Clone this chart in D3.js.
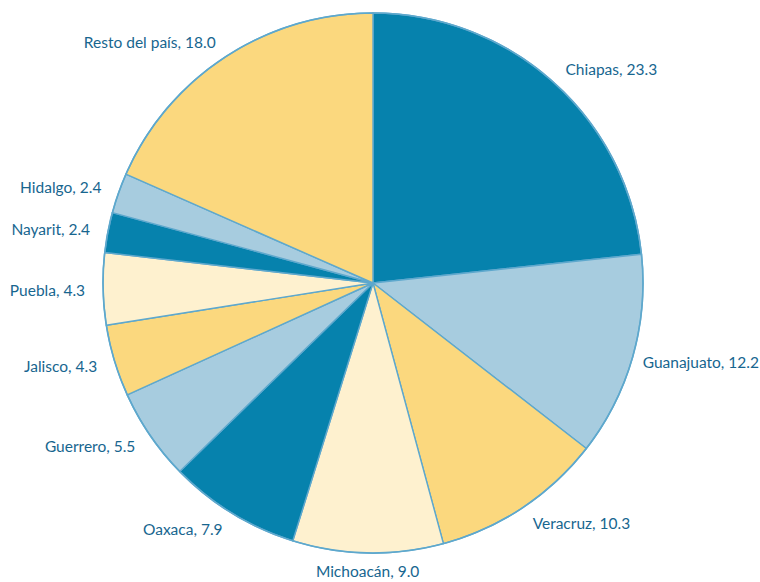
<!DOCTYPE html>
<html>
<head>
<meta charset="utf-8">
<script src="https://cdn.jsdelivr.net/npm/d3@7"></script>
<style>
  html, body { margin: 0; padding: 0; background: #fff; }
  svg { display: block; }
</style>
</head>
<body>
<div id="chart"></div>
<script>
// Data (percent), clockwise from 12 o'clock; "Resto del país" closes the circle
const states = ['Chiapas', 'Guanajuato', 'Veracruz', 'Michoacán', 'Oaxaca', 'Guerrero',
                'Jalisco', 'Puebla', 'Nayarit', 'Hidalgo', 'Resto del país'];
const shares = [23.3, 12.2, 10.3, 9.0, 7.9, 5.5, 4.3, 4.3, 2.4, 2.4, 18.0];
const palette = ['#0682ad', '#a7ccdf', '#fbd87e', '#fef1cf'];

const width = 760, height = 582;
const cx = 373, cy = 283, radius = 270;
const labelRadius = 288;

const svg = d3.select('#chart')
    .append('svg')
    .attr('width', width)
    .attr('height', height);

const g = svg.append('g')
    .attr('transform', `translate(${cx},${cy})`);

const data = states.map((name, i) => ({ name, value: shares[i], i }));
const total = d3.sum(shares);

// Angles are laid out on a 0-100 % scale; the last slice takes the remainder
const pie = d3.pie()
    .value(d => d.value)
    .sort(null)
    .endAngle(2 * Math.PI * total / 100);

const arcs = pie(data);
arcs[arcs.length - 1].endAngle = 2 * Math.PI;

const arc = d3.arc()
    .innerRadius(0)
    .outerRadius(radius);

// Slices
g.selectAll('path.slice')
    .data(arcs)
    .join('path')
    .attr('class', 'slice')
    .attr('d', arc)
    .attr('fill', d => palette[d.data.i % 4])
    .attr('stroke', '#5ea8cd')
    .attr('stroke-width', 1.4)
    .attr('stroke-linejoin', 'round');

// Outer rim
g.append('circle')
    .attr('r', radius)
    .attr('fill', 'none')
    .attr('stroke', '#5ea8cd')
    .attr('stroke-width', 1.6);

const midAngle = d => (d.startAngle + d.endAngle) / 2;

// Labels
const labels = g.selectAll('text.label')
    .data(arcs)
    .join('text')
    .attr('class', 'label')
    .attr('x', d => labelRadius * Math.sin(midAngle(d)))
    .attr('y', d => -labelRadius * Math.cos(midAngle(d)))
    .attr('dy', '0.4em')
    .attr('text-anchor', d => {
        const s = Math.sin(midAngle(d));
        if (Math.abs(s) < 0.15) return 'middle';
        return s > 0 ? 'start' : 'end';
    })
    .attr('font-family', 'Lato, "Open Sans", sans-serif')
    .attr('font-size', '15.5px')
    .attr('fill', '#17668f')
    .text(d => `${d.data.name}, ${d.data.value.toFixed(1)}`);

// Keep labels inside the canvas horizontally
labels.each(function() {
    const box = this.getBBox();
    const right = cx + box.x + box.width;
    const overflow = right - (width - 1);
    if (overflow > 0) {
        d3.select(this).attr('x', +d3.select(this).attr('x') - overflow);
    }
});
</script>
</body>
</html>
